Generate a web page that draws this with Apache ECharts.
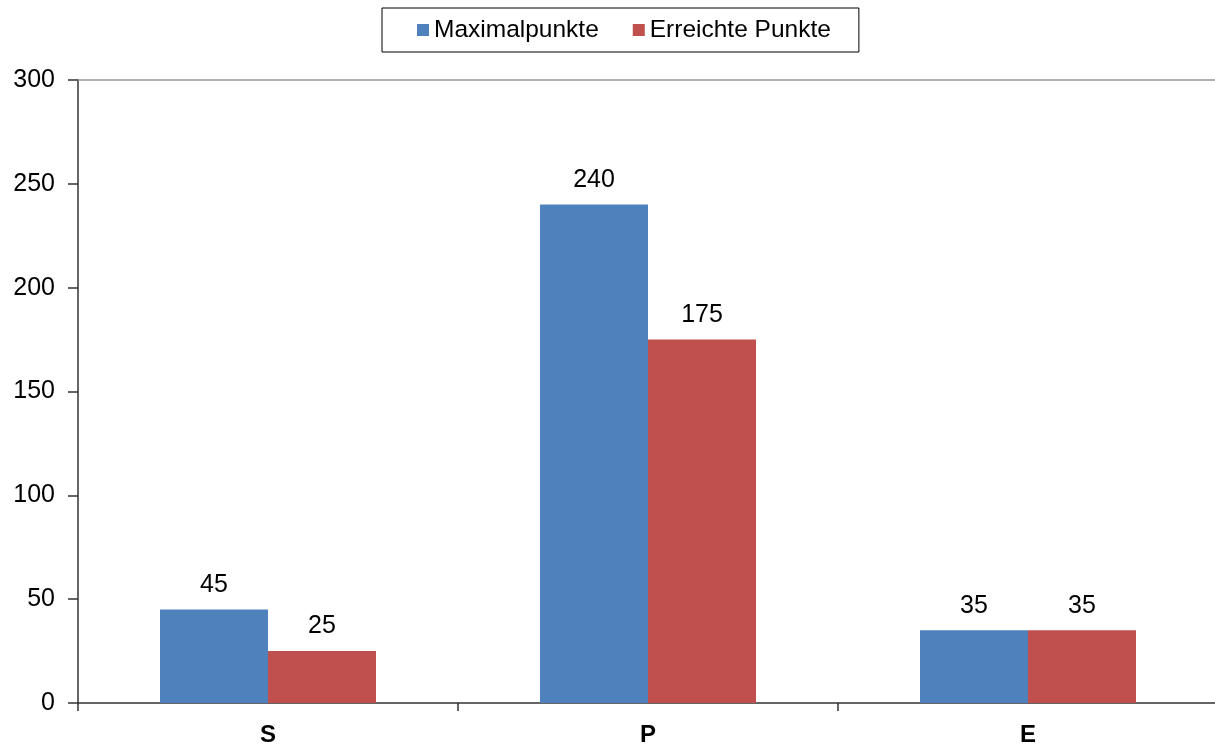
<!DOCTYPE html>
<html>
<head>
<meta charset="utf-8">
<title>Punkte</title>
<script src="https://cdn.jsdelivr.net/npm/echarts@6/dist/echarts.min.js"></script>
<style>
  html, body { margin: 0; padding: 0; background: #ffffff; }
  #chart { width: 1215px; height: 746px; }
</style>
</head>
<body>
<div id="chart"></div>
<script>
// Kategorien und Punktzahlen
const categories = ['S', 'P', 'E'];
const maxPoints = [45, 240, 35];
const achievedPoints = [25, 175, 35];
const seriesNames = ['Maximalpunkte', 'Erreichte Punkte'];

const FONT = '"Liberation Sans", Arial, sans-serif';

const chart = echarts.init(document.getElementById('chart'), null, { renderer: 'canvas' });

const labelStyle = {
  show: true,
  position: 'top',
  distance: 12,
  color: '#000',
  fontSize: 25,
  fontFamily: FONT
};

chart.setOption({
  animation: false,
  backgroundColor: '#ffffff',
  legend: {
    data: seriesNames,
    left: 382,
    top: 8,
    padding: [9, 28, 9, 35],
    borderColor: '#000',
    borderWidth: 1,
    itemWidth: 12,
    itemHeight: 12,
    itemGap: 34,
    icon: 'rect',
    textStyle: { color: '#000', fontSize: 24.5, fontFamily: FONT, lineHeight: 26 }
  },
  // plot area runs slightly past the right edge of the canvas
  grid: {
    left: 78, width: 1140, top: 80, bottom: 43,
    containLabel: false,
    outerBoundsMode: 'none'
  },
  xAxis: [
    {
      type: 'category',
      data: categories,
      axisLine: { show: true, lineStyle: { color: '#333', width: 1.5 } },
      axisTick: { show: true, length: 8, alignWithLabel: false, lineStyle: { color: '#333', width: 1.5 } },
      axisLabel: { color: '#000', fontSize: 24, fontWeight: 'bold', fontFamily: FONT, margin: 20 }
    },
    {
      type: 'category',
      data: categories,
      position: 'top',
      axisLine: { show: true, lineStyle: { color: '#999', width: 1.5 } },
      axisTick: { show: false },
      axisLabel: { show: false }
    }
  ],
  yAxis: {
    type: 'value',
    min: 0,
    max: 300,
    interval: 50,
    axisLine: { show: true, lineStyle: { color: '#333', width: 1.5 } },
    axisTick: { show: true, length: 10, lineStyle: { color: '#333', width: 1.5 } },
    splitLine: { show: false },
    axisLabel: { color: '#000', fontSize: 25, fontFamily: FONT, margin: 23 }
  },
  series: [
    {
      name: seriesNames[0],
      type: 'bar',
      data: maxPoints,
      barWidth: 108,
      barGap: '0%',
      itemStyle: { color: '#4F81BD' },
      label: labelStyle
    },
    {
      name: seriesNames[1],
      type: 'bar',
      data: achievedPoints,
      barWidth: 108,
      barGap: '0%',
      itemStyle: { color: '#C0504D' },
      label: labelStyle
    }
  ]
});
</script>
</body>
</html>
